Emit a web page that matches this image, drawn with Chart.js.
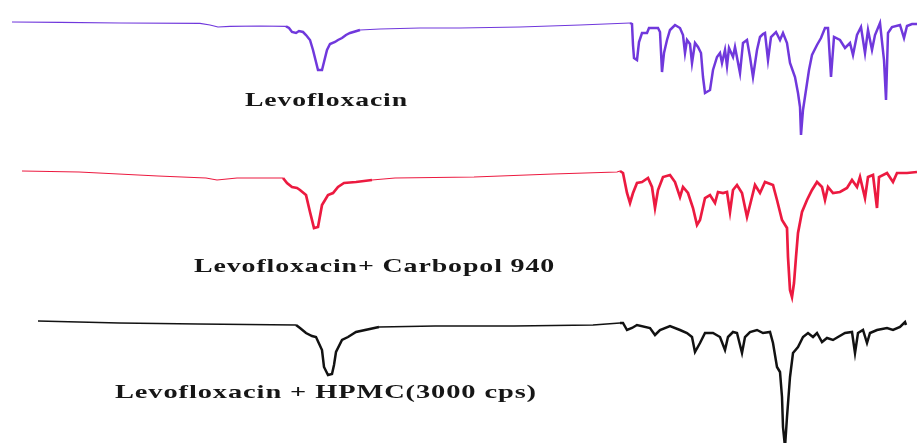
<!DOCTYPE html>
<html>
<head>
<meta charset="utf-8">
<script src="https://cdn.jsdelivr.net/npm/chart.js@4"></script>
<style>
  html, body { margin: 0; padding: 0; background: #fff; }
  #stage { position: relative; width: 917px; height: 443px; overflow: hidden; background: #fff; }
  canvas { position: absolute; left: 0; }
  .cap {
    position: absolute; white-space: nowrap;
    font-family: "Liberation Serif", "Times New Roman", serif;
    font-weight: bold; font-size: 19px; color: #161616;
    transform-origin: 0 50%; line-height: 20px;
  }
</style>
</head>
<body>
<div id="stage">
  <canvas id="c1" width="917" height="200" style="top:0px"></canvas>
  <canvas id="c2" width="917" height="200" style="top:150px"></canvas>
  <canvas id="c3" width="917" height="200" style="top:300px"></canvas>
  <div class="cap" id="l1"></div>
  <div class="cap" id="l2"></div>
  <div class="cap" id="l3"></div>
</div>
<script>
// Sample names shown under each spectrum
const sampleNames = ["Levofloxacin", "Levofloxacin+ Carbopol 940", "Levofloxacin + HPMC(3000 cps)"];

// Levofloxacin: wavenumber (cm-1) and transmittance (%T)
const levoWn = [3952,3760,3520,3200,3160,3128,3080,2960,2856,2844,2832,2816,2804,2788,2776,2760,2748,2736,2728,2712,2704,2692,2680,2660,2648,2632,2616,2600,2560,2480,2320,2160,1920,1680,1480,
  1472,1468,1464,1452,1444,1432,1412,1404,1368,1360,1352,1344,1332,1320,1300,1280,1268,1260,1252,1240,1232,1220,1208,1196,1188,1180,1160,1148,1132,1120,1112,1100,1092,1084,1068,1060,1040,1028,1012,1000,988,972,960,948,940,928,916,896,880,868,852,840,820,808,800,796,788,776,764,752,732,716,700,688,676,664,640,620,600,588,572,556,540,528,512,500,480,464,456,448,432,400,384,372,352,332];
const levoT = [89,88.8,88.5,88.3,87.5,86.5,86.8,87,86.8,86,84,83.5,84.5,84,82.5,80,75,69,65,65,69,75,78,79,80,81,82.5,83.5,85,85.5,86,86,86.5,87.5,88.5,
  88,77.5,71,70,79,83.5,83.5,86,86,84,64,73.5,80,85,87.5,86,82.5,73.5,80,78,68.5,78.5,76.5,73.5,61.5,53.5,55,65,71.5,73.5,68.5,75,67,76,71.5,76.5,63.5,78.5,80,71.5,61.5,75,81.5,83,83.5,70,81.5,84,80,83.5,78.5,68.5,61.5,53.5,46.5,32.5,45,55,65,72.5,77.5,81,86,86,61.5,81.5,80,76,78.5,72.5,82.5,86.5,73.5,85,75,82.5,88.5,70,50,83.5,86.5,87.5,81,87,88,88];

// Levofloxacin + Carbopol 940
const carboWn = [3912,3684,3368,3176,3132,3052,2868,2852,2832,2812,2800,2776,2760,2744,2728,2712,2688,2668,2648,2624,2576,2512,2420,2104,1788,1532,
  1520,1508,1492,1480,1468,1452,1432,1408,1392,1380,1368,1348,1320,1300,1280,1268,1248,1228,1212,1200,1180,1160,1140,1128,1108,1092,1080,1068,1052,1032,1012,992,980,960,940,908,892,872,852,848,840,832,824,816,808,792,772,752,732,712,700,688,668,640,612,592,572,560,540,528,508,492,484,452,428,412,372,332];
const carboT = [89.5,89,87,86,85,86,86,83.5,81.5,81,80,77.5,69,61,61.5,72.5,77.5,78.5,81.5,83.5,84,85,86,86.5,88,89,
  89.5,88.5,78.5,73.5,78.5,83.5,84,86,81.5,71,80,86.5,87.5,84,76.5,81.5,78.5,71,62.5,65,76,77.5,73.5,79,78.5,79,69,80,82.5,78.5,66.5,76.5,82.5,78.5,84,82.5,75,65,61,46.5,30,26.5,33.5,46.5,58.5,69,75,80,84,81.5,75,81.5,78.5,79,81,85,81.5,86.5,76,86.5,87.5,71,86.5,88.5,84,88.5,88.5,89];

// Levofloxacin + HPMC (3000 cps)
const hpmcWn = [3848,3524,3208,2816,2800,2776,2752,2736,2712,2704,2688,2672,2664,2656,2632,2608,2576,2484,2260,1944,1628,1520,
  1508,1492,1472,1452,1400,1380,1360,1320,1280,1252,1232,1220,1200,1180,1148,1120,1100,1088,1068,1052,1032,1020,1000,972,948,920,908,892,880,872,868,860,852,840,828,808,788,768,748,732,712,692,668,648,620,592,580,568,548,532,520,492,452,428,400,380,376];
const hpmcT = [89.5,88.5,88,87.5,86,83.5,82,81.5,75,66.5,62.5,63,67.5,74,80,81.5,84,86.5,87,87,87.5,88.5,
  88.5,85,86,87.5,86,82.5,85,87,85,83.5,81.5,74,78.5,83.5,83.5,81.5,75,81.5,84,83.5,73.5,81.5,84,85,83.5,84,78.5,66.5,64,51.5,36.5,26.5,41.5,61.5,73.5,76.5,81.5,83.5,81.5,83.5,79,81,80,81.5,83.5,84,73.5,83.5,85,78.5,83.5,85,86,85,86.5,89,87.5];

function points(wn, t) { return wn.map((w, i) => ({ x: w, y: t[i] })); }

// Thin trace in the flat high-wavenumber part, heavier where the bands are
function widthFor(thin, thick) {
  return ctx => {
    const w = ctx.p0.parsed.x;
    return (w < 1530 || (w < 2880 && w > 2560)) ? thick : thin;
  };
}

function spectrum(id, wn, t, color, thin, thick) {
  new Chart(document.getElementById(id), {
    type: 'line',
    data: {
      datasets: [{
        data: points(wn, t),
        borderColor: color,
        borderWidth: thick,
        pointRadius: 0,
        tension: 0,
        fill: false,
        segment: { borderWidth: widthFor(thin, thick) }
      }]
    },
    options: {
      responsive: false,
      animation: false,
      events: [],
      layout: { padding: 0 },
      plugins: { legend: { display: false }, tooltip: { enabled: false } },
      scales: {
        x: { type: 'linear', min: 332, max: 4000, reverse: true, display: false },
        y: { min: 0, max: 100, display: false }
      }
    }
  });
}

spectrum('c1', levoWn, levoT, '#7038dc', 1.2, 2.5);
spectrum('c2', carboWn, carboT, '#ec1a40', 1.2, 2.7);
spectrum('c3', hpmcWn, hpmcT, '#121212', 1.3, 2.5);

// Captions: left edge, vertical centre and drawn width in px
const capLayout = [[245, 100, 163], [194, 266, 361], [115, 392, 422]];
['l1', 'l2', 'l3'].forEach((id, i) => {
  const el = document.getElementById(id);
  el.textContent = sampleNames[i];
  const [left, cy, w] = capLayout[i];
  el.style.left = left + 'px';
  el.style.top = (cy - 10) + 'px';
  el.style.letterSpacing = '0.6px';
  const natural = el.getBoundingClientRect().width;
  el.style.transform = 'scaleX(' + (w / natural).toFixed(3) + ')';
});
</script>
</body>
</html>
